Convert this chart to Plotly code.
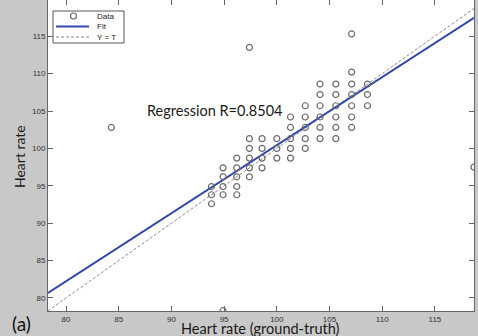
import plotly.graph_objects as go

# ---- data ----
data_x = [93.8,
          93.8, 94.9, 96.2,
          93.8, 94.9, 96.2,
          94.9, 96.2, 97.4,
          94.9, 96.2, 97.4, 98.6,
          96.2, 97.4, 98.6, 100.0, 101.3,
          97.4, 98.6, 100.0, 101.3, 102.7,
          97.4, 98.6, 100.0, 101.3, 102.7, 104.1, 105.6,
          101.3, 102.7, 104.1, 105.6, 107.1, 84.3,
          101.3, 102.7, 104.1, 105.6, 107.1,
          102.7, 104.1, 105.6, 107.1, 108.6,
          104.1, 105.6, 107.1, 108.6,
          104.1, 105.6, 107.1, 108.6,
          107.1, 97.4, 107.1, 94.9, 118.7]
data_y = [92.6,
          93.8, 93.8, 93.8,
          94.9, 94.9, 94.9,
          96.2, 96.2, 96.2,
          97.4, 97.4, 97.4, 97.4,
          98.7, 98.7, 98.7, 98.7, 98.7,
          100.0, 100.0, 100.0, 100.0, 100.0,
          101.3, 101.3, 101.3, 101.3, 101.3, 101.3, 101.3,
          102.8, 102.8, 102.8, 102.8, 102.8, 102.8,
          104.2, 104.2, 104.2, 104.2, 104.2,
          105.7, 105.7, 105.7, 105.7, 105.7,
          107.2, 107.2, 107.2, 107.2,
          108.6, 108.6, 108.6, 108.6,
          110.2, 113.5, 115.3, 78.3, 97.5]

fit_slope = 0.91
fit_intercept = 9.42
x_range = [78.29, 118.71]
y_range = [78.26, 119.84]
tick_vals = [80, 85, 90, 95, 100, 105, 110, 115]
r_text = "Regression R=0.8504"

# ---- layout geometry ----
W, H = 478, 336
L, R, T, B = 48, 4, 0, 25
PW, PH = W - L - R, H - T - B


def px(x):
    return (x - L) / PW


def py(y):
    return (T + PH - y) / PH


fit_x = x_range
fit_y = [fit_slope * v + fit_intercept for v in fit_x]

fig = go.Figure()
fig.add_trace(go.Scatter(x=x_range, y=x_range, mode="lines",
                         line=dict(color="#8a8a8a", width=1, dash="3px,2px"),
                         name="Y = T", hoverinfo="skip"))
fig.add_trace(go.Scatter(x=fit_x, y=fit_y, mode="lines",
                         line=dict(color="#3347a8", width=2),
                         name="Fit", hoverinfo="skip"))
fig.add_trace(go.Scatter(x=data_x, y=data_y, mode="markers",
                         marker=dict(symbol="circle-open", size=6,
                                     color="#6a6a6a", line=dict(width=1.2)),
                         name="Data"))

axis_common = dict(showgrid=False, zeroline=False, showline=True,
                   linecolor="#666", linewidth=1, mirror="ticks",
                   ticks="inside", ticklen=5, tickcolor="#666",
                   tickfont=dict(family="Liberation Sans, Arial", size=8, color="#333"),
                   tickvals=tick_vals)
fig.update_xaxes(range=x_range, **axis_common)
fig.update_yaxes(range=y_range, **axis_common)

ann = []
ann.append(dict(text=r_text, x=214, y=110, font=dict(family="Lato", size=14.5, color="#1a1a1a")))
ann.append(dict(text="Heart rate (ground-truth)", x=260, y=328.5,
                font=dict(family="Lato", size=14.5, color="#1a1a1a")))
ann.append(dict(text="Heart rate", x=19, y=157, textangle=-90,
                font=dict(family="Lato", size=14, color="#1a1a1a")))
ann.append(dict(text="(a)", x=21, y=323,
                font=dict(family="Lato", size=19, color="#111")))
# legend texts
ann.append(dict(text="Data", x=95, y=16, xanchor="left",
                font=dict(family="Liberation Sans, Arial", size=8, color="#222")))
ann.append(dict(text="Fit", x=95, y=26.5, xanchor="left",
                font=dict(family="Liberation Sans, Arial", size=8, color="#222")))
ann.append(dict(text="Y = T", x=95, y=37, xanchor="left",
                font=dict(family="Liberation Sans, Arial", size=8, color="#222")))
annotations = []
for a in ann:
    d = dict(xref="paper", yref="paper", showarrow=False,
             xanchor=a.get("xanchor", "center"), yanchor="middle",
             x=px(a["x"]), y=py(a["y"]), text=a["text"], font=a["font"])
    if "textangle" in a:
        d["textangle"] = a["textangle"]
    annotations.append(d)

shapes = [
    dict(type="rect", xref="paper", yref="paper", x0=px(53), x1=px(124),
         y0=py(43), y1=py(11), line=dict(color="#555", width=1), fillcolor="white"),
    dict(type="circle", xref="paper", yref="paper", x0=px(70.5), x1=px(76.5),
         y0=py(19), y1=py(13), line=dict(color="#6a6a6a", width=1.2)),
    dict(type="line", xref="paper", yref="paper", x0=px(56), x1=px(89),
         y0=py(26.5), y1=py(26.5), line=dict(color="#3347a8", width=2)),
    dict(type="line", xref="paper", yref="paper", x0=px(56), x1=px(89),
         y0=py(37), y1=py(37), line=dict(color="#8a8a8a", width=1, dash="3px,2px")),
]

fig.update_layout(width=W, height=H, margin=dict(l=L, r=R, t=T, b=B),
                  paper_bgcolor="#c8c8c8", plot_bgcolor="white",
                  showlegend=False, annotations=annotations, shapes=shapes)

fig.write_html("out.html", config={"displayModeBar": False},
               post_script="document.body.style.margin='0';document.body.style.overflow='hidden';")
